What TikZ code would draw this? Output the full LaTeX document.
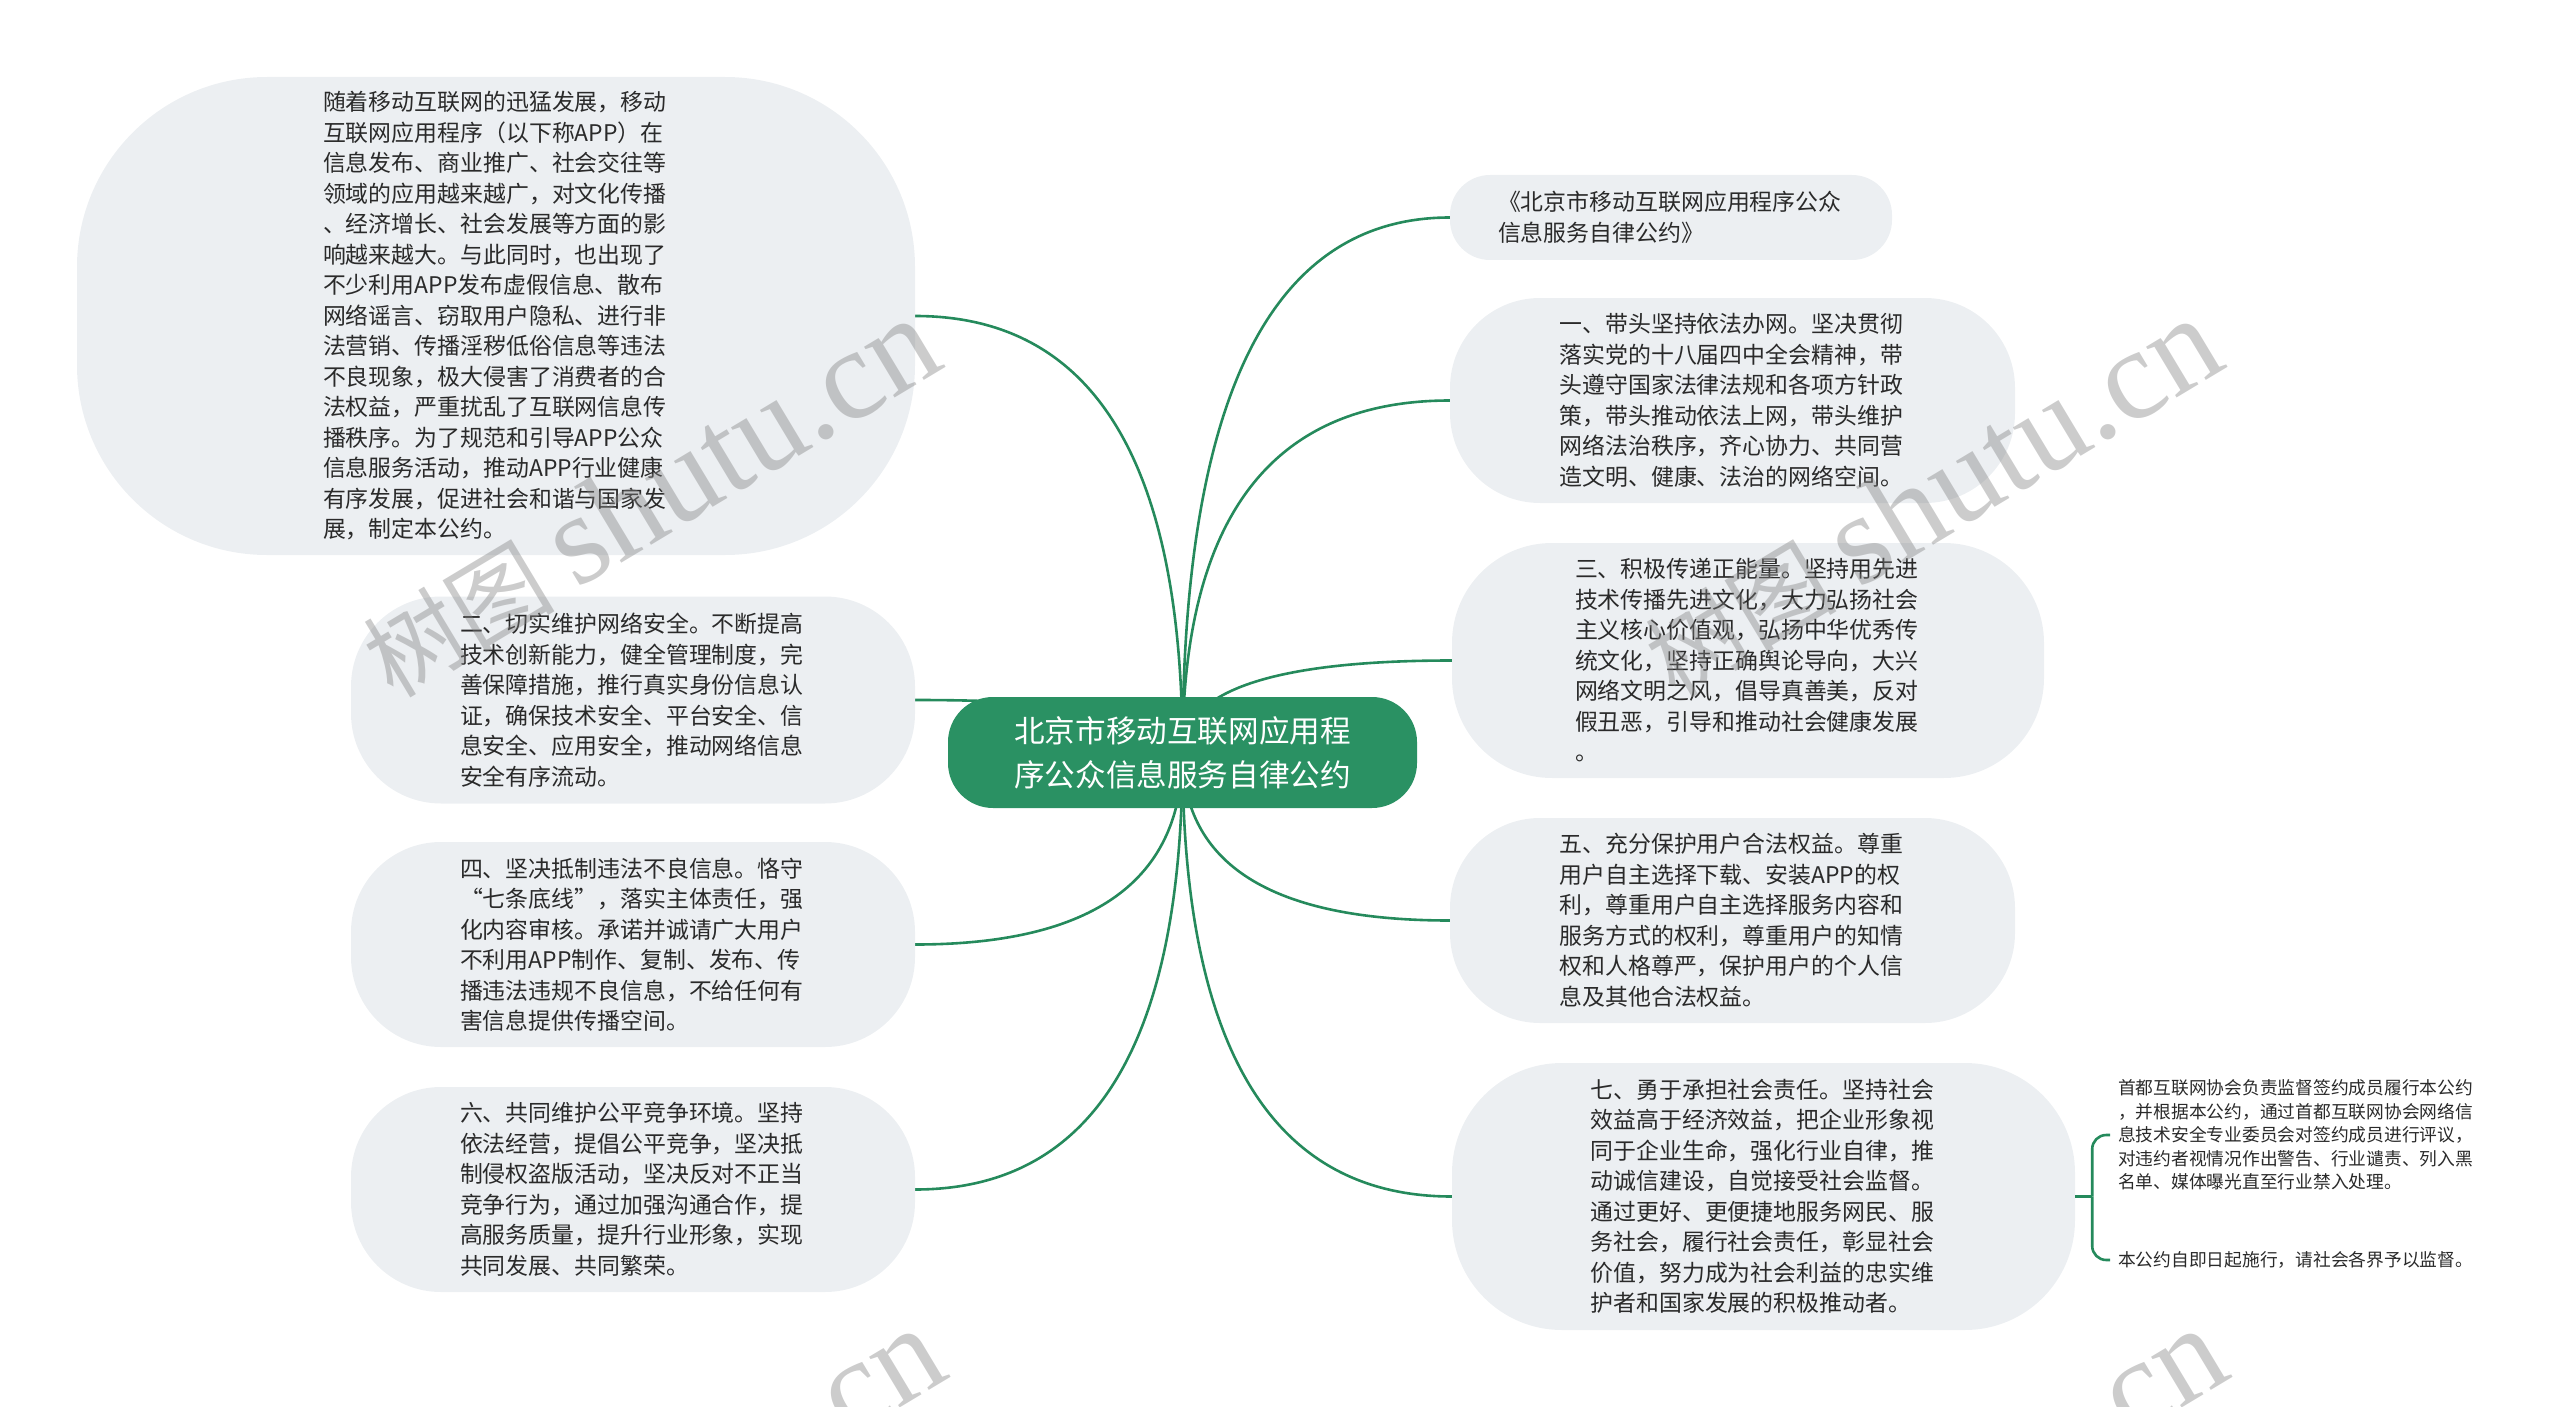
\documentclass[tikz,border=0pt]{standalone}
\usepackage{fontspec}
\setmainfont{Noto Sans CJK SC}
\newfontfamily\wmserif{Liberation Serif}
\usetikzlibrary{calc}
\pgfdeclarelayer{bg}
\pgfdeclarelayer{fg}
\pgfsetlayers{bg,main,fg}
\definecolor{bubble}{HTML}{ECEFF2}
\definecolor{mgreen}{HTML}{2A9163}
\definecolor{lgreen}{HTML}{258A5C}
\definecolor{txt}{HTML}{2A2A2A}
\begin{document}
\begin{tikzpicture}[x=1pt,y=-1pt,
  bub/.style={fill=bubble, draw=none, text=txt, align=left, text width=346pt,
    font=\fontsize{22.9pt}{30.5pt}\selectfont, inner sep=0pt},
  rootnode/.style={fill=mgreen, text=white, rounded corners=45pt, align=center,
    text width=342pt, minimum width=469pt, minimum height=111pt,
    font=\fontsize{30.6pt}{44pt}\selectfont, inner sep=0pt},
  conn/.style={draw=lgreen, line width=2.6pt},
  leaf/.style={text=txt, align=left, text width=358pt,
    font=\fontsize{17.75pt}{23.5pt}\selectfont, inner xsep=8pt, inner ysep=0pt, anchor=west},
  wm/.style={text=gray, text opacity=0.4, rotate=31, anchor=base west, inner sep=0pt}
]
\useasboundingbox (0,0) rectangle (2560,1407);

% central node
\node[rootnode] (root) at (1182.5,752.5) {北京市移动互联网应用程\\序公众信息服务自律公约};

% left side
\node[bub, minimum width=838pt, minimum height=478pt, rounded corners=190pt] (A) at (496,316) {%
随着移动互联网的迅猛发展，移动\\
互联网应用程序（以下称APP）在\\
信息发布、商业推广、社会交往等\\
领域的应用越来越广，对文化传播\\
、经济增长、社会发展等方面的影\\
响越来越大。与此同时，也出现了\\
不少利用APP发布虚假信息、散布\\
网络谣言、窃取用户隐私、进行非\\
法营销、传播淫秽低俗信息等违法\\
不良现象，极大侵害了消费者的合\\
法权益，严重扰乱了互联网信息传\\
播秩序。为了规范和引导APP公众\\
信息服务活动，推动APP行业健康\\
有序发展，促进社会和谐与国家发\\
展，制定本公约。};

\node[bub, minimum width=564pt, minimum height=207pt, rounded corners=90pt] (B) at (633,700) {%
二、切实维护网络安全。不断提高\\
技术创新能力，健全管理制度，完\\
善保障措施，推行真实身份信息认\\
证，确保技术安全、平台安全、信\\
息安全、应用安全，推动网络信息\\
安全有序流动。};

\node[bub, minimum width=564pt, minimum height=205pt, rounded corners=90pt] (C) at (633,944.5) {%
四、坚决抵制违法不良信息。恪守\\
“七条底线”，落实主体责任，强\\
化内容审核。承诺并诚请广大用户\\
不利用APP制作、复制、发布、传\\
播违法违规不良信息，不给任何有\\
害信息提供传播空间。};

\node[bub, minimum width=564pt, minimum height=205pt, rounded corners=90pt] (D) at (633,1189.5) {%
六、共同维护公平竞争环境。坚持\\
依法经营，提倡公平竞争，坚决抵\\
制侵权盗版活动，坚决反对不正当\\
竞争行为，通过加强沟通合作，提\\
高服务质量，提升行业形象，实现\\
共同发展、共同繁荣。};

% right side
\node[bub, minimum width=442pt, minimum height=85pt, rounded corners=40pt] (E) at (1671,217.5) {%
《北京市移动互联网应用程序公众\\
信息服务自律公约》};

\node[bub, minimum width=565pt, minimum height=205pt, rounded corners=90pt] (F) at (1732.5,400.5) {%
一、带头坚持依法办网。坚决贯彻\\
落实党的十八届四中全会精神，带\\
头遵守国家法律法规和各项方针政\\
策，带头推动依法上网，带头维护\\
网络法治秩序，齐心协力、共同营\\
造文明、健康、法治的网络空间。};

\node[bub, minimum width=592pt, minimum height=235pt, rounded corners=100pt] (G) at (1748,660.5) {%
三、积极传递正能量。坚持用先进\\
技术传播先进文化，大力弘扬社会\\
主义核心价值观，弘扬中华优秀传\\
统文化，坚持正确舆论导向，大兴\\
网络文明之风，倡导真善美，反对\\
假丑恶，引导和推动社会健康发展\\
。};

\node[bub, minimum width=565pt, minimum height=205pt, rounded corners=90pt] (H) at (1732.5,920.5) {%
五、充分保护用户合法权益。尊重\\
用户自主选择下载、安装APP的权\\
利，尊重用户自主选择服务内容和\\
服务方式的权利，尊重用户的知情\\
权和人格尊严，保护用户的个人信\\
息及其他合法权益。};

\node[bub, minimum width=623pt, minimum height=267pt, rounded corners=110pt] (I) at (1763.5,1196.5) {%
七、勇于承担社会责任。坚持社会\\
效益高于经济效益，把企业形象视\\
同于企业生命，强化行业自律，推\\
动诚信建设，自觉接受社会监督。\\
通过更好、更便捷地服务网民、服\\
务社会，履行社会责任，彰显社会\\
价值，努力成为社会利益的忠实维\\
护者和国家发展的积极推动者。};

% leaves of I
\node[leaf] (J1) at (2110,1135) {%
首都互联网协会负责监督签约成员履行本公约\\
，并根据本公约，通过首都互联网协会网络信\\
息技术安全专业委员会对签约成员进行评议，\\
对违约者视情况作出警告、行业谴责、列入黑\\
名单、媒体曝光直至行业禁入处理。};
\node[leaf] (J2) at (2110,1260) {本公约自即日起施行，请社会各界予以监督。};

% connectors
\begin{pgfonlayer}{bg}
\foreach \t/\a in {A/east,B/east,C/east,D/east,E/west,F/west,G/west,H/west,I/west}{
  \draw[conn] (root.center) .. controls ($(root.center)!0.6667!(root.center |- \t.\a)$)
    and ($(\t.\a)!0.6667!(root.center |- \t.\a)$) .. (\t.\a);
}
\end{pgfonlayer}
\coordinate (br) at ($(I.east)+(17,0)$);
\draw[conn] (I.east) -- (br);
\draw[conn, rounded corners=14pt] (br) |- (J1.west);
\draw[conn, rounded corners=14pt] (br) |- (J2.west);

% watermarks
\begin{pgfonlayer}{fg}
\node[wm] (w1) at (393,700) {\fontsize{96pt}{96pt}\selectfont 树图 {\wmserif\fontsize{129pt}{129pt}\selectfont shutu.cn}};
\node[wm] (w2) at (1675,700) {\fontsize{96pt}{96pt}\selectfont 树图 {\wmserif\fontsize{129pt}{129pt}\selectfont shutu.cn}};
\node[wm] (w3) at (398,1710) {\fontsize{96pt}{96pt}\selectfont 树图 {\wmserif\fontsize{129pt}{129pt}\selectfont shutu.cn}};
\node[wm] (w4) at (1680,1710) {\fontsize{96pt}{96pt}\selectfont 树图 {\wmserif\fontsize{129pt}{129pt}\selectfont shutu.cn}};
\end{pgfonlayer}
\end{tikzpicture}
\end{document}
